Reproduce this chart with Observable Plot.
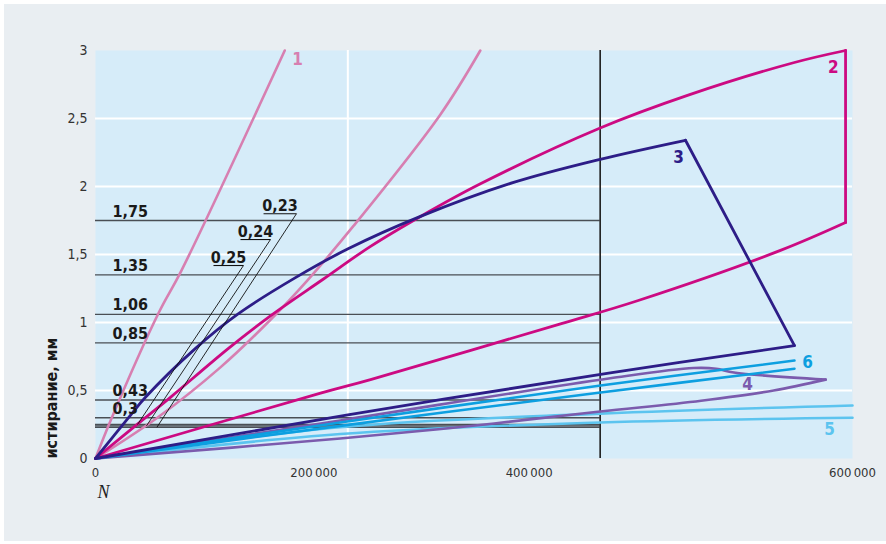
<!DOCTYPE html>
<html>
<head>
<meta charset="utf-8">
<script src="https://cdn.jsdelivr.net/npm/d3@7"></script>
<script src="https://cdn.jsdelivr.net/npm/@observablehq/plot@0.6"></script>
<style>
  html, body { margin: 0; padding: 0; background: #ffffff; }
  #panel { position: absolute; left: 4px; top: 4px; width: 882px; height: 537px; background: #e9eef2; }
  #chart { position: absolute; left: 0; top: 0; }
</style>
</head>
<body>
<div id="panel"></div>
<div id="chart"></div>
<script>
// Wear (mm) versus number of cycles N for each tested pair.
const n1 = [0, 12000, 50000, 68000, 150000];
const w1 = [0, 0.28, 1.07, 1.38, 3.0];
const n1b = [0, 49000, 99000, 138700, 168000, 204500, 273400, 305000];
const w1b = [0, 0.30, 0.67, 1.02, 1.31, 1.71, 2.53, 3.0];

const n2up = [0, 39600, 59400, 105400, 140300, 180700, 218000, 257600, 305100, 400000, 469200, 553200, 594500];
const w2up = [0, 0.30, 0.45, 0.81, 1.06, 1.32, 1.56, 1.78, 2.02, 2.43, 2.67, 2.91, 3.0];
const n2lo = [0, 178400, 218000, 368600, 429600, 542900, 594500];
const w2lo = [0, 0.48, 0.58, 0.99, 1.16, 1.53, 1.735];

const n3up = [0, 26200, 39600, 79300, 112500, 158500, 199800, 257600, 331400, 400000, 467600];
const w3up = [0, 0.30, 0.45, 0.81, 1.06, 1.33, 1.54, 1.78, 2.03, 2.20, 2.34];
const n3lo = [0, 200000, 408000, 554000];
const w3lo = [0, 0.32, 0.63, 0.83];

const n4up = [0, 194000, 408000, 474000, 492000, 506000, 578700];
const w4up = [0, 0.28, 0.59, 0.665, 0.66, 0.632, 0.58];
const n4lo = [0, 194000, 301000, 400000, 480000, 537500, 578700];
const w4lo = [0, 0.147, 0.243, 0.345, 0.425, 0.50, 0.58];

const n5a = [0, 194000, 400000, 600000];
const w5a = [0, 0.23, 0.33, 0.39];
const n5b = [0, 194000, 400000, 600000];
const w5b = [0, 0.18, 0.265, 0.30];

const n6a = [0, 194000, 400300, 554000];
const w6a = [0, 0.265, 0.537, 0.72];
const n6b = [0, 194000, 400300, 554000];
const w6b = [0, 0.24, 0.485, 0.66];

// Reference wear levels (mm) and the cycle limit
const levels = [1.75, 1.35, 1.06, 0.85, 0.43, 0.3, 0.25, 0.24, 0.23];
const cycleLimit = 400000;

// Axis ticks and labels
const xTicks = [0, 200000, 400000, 600000];
const yTicks = [0, 0.5, 1, 1.5, 2, 2.5, 3];
const curveNames = ["1", "2", "3", "4", "5", "6"];
const yTitle = "истирание, мм";
const xTitle = "N";

const colors = {
  c1: "#d77fb1",
  c2: "#cc0a82",
  c3: "#2d1d87",
  c4: "#7b5bad",
  c5: "#5cc4ef",
  c6: "#0d9fe0"
};

const rows = (ns, ws) => ns.map((n, i) => ({n, w: ws[i]}));
const last = (ns, ws) => ({n: ns[ns.length - 1], w: ws[ws.length - 1]});
const comma = d => String(d).replace(".", ",");
const fmtN = d => d3.format(",")(d).replace(/,/g, "\u2009");

const narrow = "'Liberation Sans Narrow', 'DejaVu Sans Condensed', 'Roboto', sans-serif";

// Placement of the curve numbers (data units)
const curveTags = [
  {name: curveNames[0], n: 160100, w: 2.93, c: colors.c1},
  {name: curveNames[1], n: 584900, w: 2.875, c: colors.c2},
  {name: curveNames[2], n: 462100, w: 2.21, c: colors.c3},
  {name: curveNames[3], n: 516800, w: 0.544, c: colors.c4},
  {name: curveNames[4], n: 581800, w: 0.213, c: colors.c5},
  {name: curveNames[5], n: 564300, w: 0.706, c: colors.c6}
];

// Leader-line callouts for the three lowest levels
const callouts = [
  {value: levels[6], n0: 93500, n1: 117300, v: 1.419, nEnd: 33300},
  {value: levels[7], n0: 114900, n1: 138700, v: 1.61, nEnd: 40400},
  {value: levels[8], n0: 133200, n1: 159300, v: 1.80, nEnd: 48700}
];

const xShift = [0, -34, -71, 0];

const lineOpts = (c, w = 2.8) => ({x: "n", y: "w", stroke: c, strokeWidth: w, curve: "catmull-rom", strokeLinejoin: "round", strokeLinecap: "round"});

const plot = Plot.plot({
  width: 886,
  height: 544,
  marginLeft: 95,
  marginRight: 34,
  marginTop: 50,
  marginBottom: 86,
  x: {domain: [0, 600000]},
  y: {domain: [0, 3]},
  style: {background: "transparent", fontFamily: narrow, color: "#333"},
  marks: [
    Plot.frame({fill: "#d6ecf9", stroke: null}),
    Plot.gridY(yTicks.slice(1, -1), {stroke: "#ffffff", strokeOpacity: 1, strokeWidth: 2}),
    Plot.gridX([200000], {stroke: "#ffffff", strokeOpacity: 1, strokeWidth: 2}),
    Plot.ruleY(levels, {x1: 0, x2: cycleLimit, stroke: "#4a4f55", strokeWidth: 1.4}),
    Plot.ruleX([cycleLimit], {stroke: "#1e1e1e", strokeWidth: 1.6}),

    Plot.line(rows(n5a, w5a), lineOpts(colors.c5, 2.6)),
    Plot.line(rows(n5b, w5b), lineOpts(colors.c5, 2.6)),
    Plot.line(rows(n4lo, w4lo), lineOpts(colors.c4, 2.6)),
    Plot.line(rows(n4up, w4up), lineOpts(colors.c4, 2.6)),
    Plot.line(rows(n6a, w6a), lineOpts(colors.c6, 2.6)),
    Plot.line(rows(n6b, w6b), lineOpts(colors.c6, 2.6)),
    Plot.line(rows(n1, w1), lineOpts(colors.c1, 2.6)),
    Plot.line(rows(n1b, w1b), lineOpts(colors.c1, 2.6)),
    Plot.line(rows(n2lo, w2lo), lineOpts(colors.c2)),
    Plot.line(rows(n2up, w2up), lineOpts(colors.c2)),
    Plot.line([last(n2up, w2up), last(n2lo, w2lo)], {x: "n", y: "w", stroke: colors.c2, strokeWidth: 2.8, strokeLinecap: "round"}),
    Plot.line(rows(n3lo, w3lo), lineOpts(colors.c3)),
    Plot.line(rows(n3up, w3up), lineOpts(colors.c3)),
    Plot.line([last(n3up, w3up), last(n3lo, w3lo)], {x: "n", y: "w", stroke: colors.c3, strokeWidth: 2.8, strokeLinecap: "round"}),

    // callout leaders
    Plot.link(callouts, {x1: "n0", x2: "n1", y1: "v", y2: "v", stroke: "#111", strokeWidth: 1.1}),
    Plot.link(callouts, {x1: "n1", y1: "v", x2: "nEnd", y2: "value", stroke: "#111", strokeWidth: 0.9}),
    Plot.text(callouts, {x: d => (d.n0 + d.n1) / 2, y: "v", text: d => comma(d.value), lineAnchor: "bottom", dy: -3, fontSize: 16, fontWeight: "bold", fill: "#1a1a1a"}),

    // level labels
    Plot.text(levels.slice(0, 6), {y: d => d, frameAnchor: "left", dx: 17, dy: -4, textAnchor: "start", lineAnchor: "bottom", text: comma, fontSize: 16, fontWeight: "bold", fill: "#1a1a1a"}),

    // curve numbers
    Plot.text(curveTags, {x: "n", y: "w", text: "name", fill: "c", fontSize: 17, fontWeight: "bold"}),

    // axes
    Plot.axisY(yTicks, {tickSize: 0, tickPadding: 8, tickFormat: comma, fontSize: 14, label: null}),
    ...xTicks.map((t, i) => Plot.axisX([t], {tickSize: 0, tickPadding: 9, dx: xShift[i], tickFormat: fmtN, fontSize: 13, label: null})),

    Plot.text([yTitle], {frameAnchor: "bottom-left", rotate: -90, textAnchor: "start", dx: -39, fontSize: 16, fontWeight: "bold", fill: "#1a1a1a"}),
    Plot.text([xTitle], {frameAnchor: "bottom-left", textAnchor: "start", dx: 2, dy: 39, fontSize: 18, fontStyle: "italic", fontFamily: "'Liberation Serif', 'DejaVu Serif', serif", fill: "#222"})
  ]
});

document.getElementById("chart").appendChild(plot);
</script>
</body>
</html>
